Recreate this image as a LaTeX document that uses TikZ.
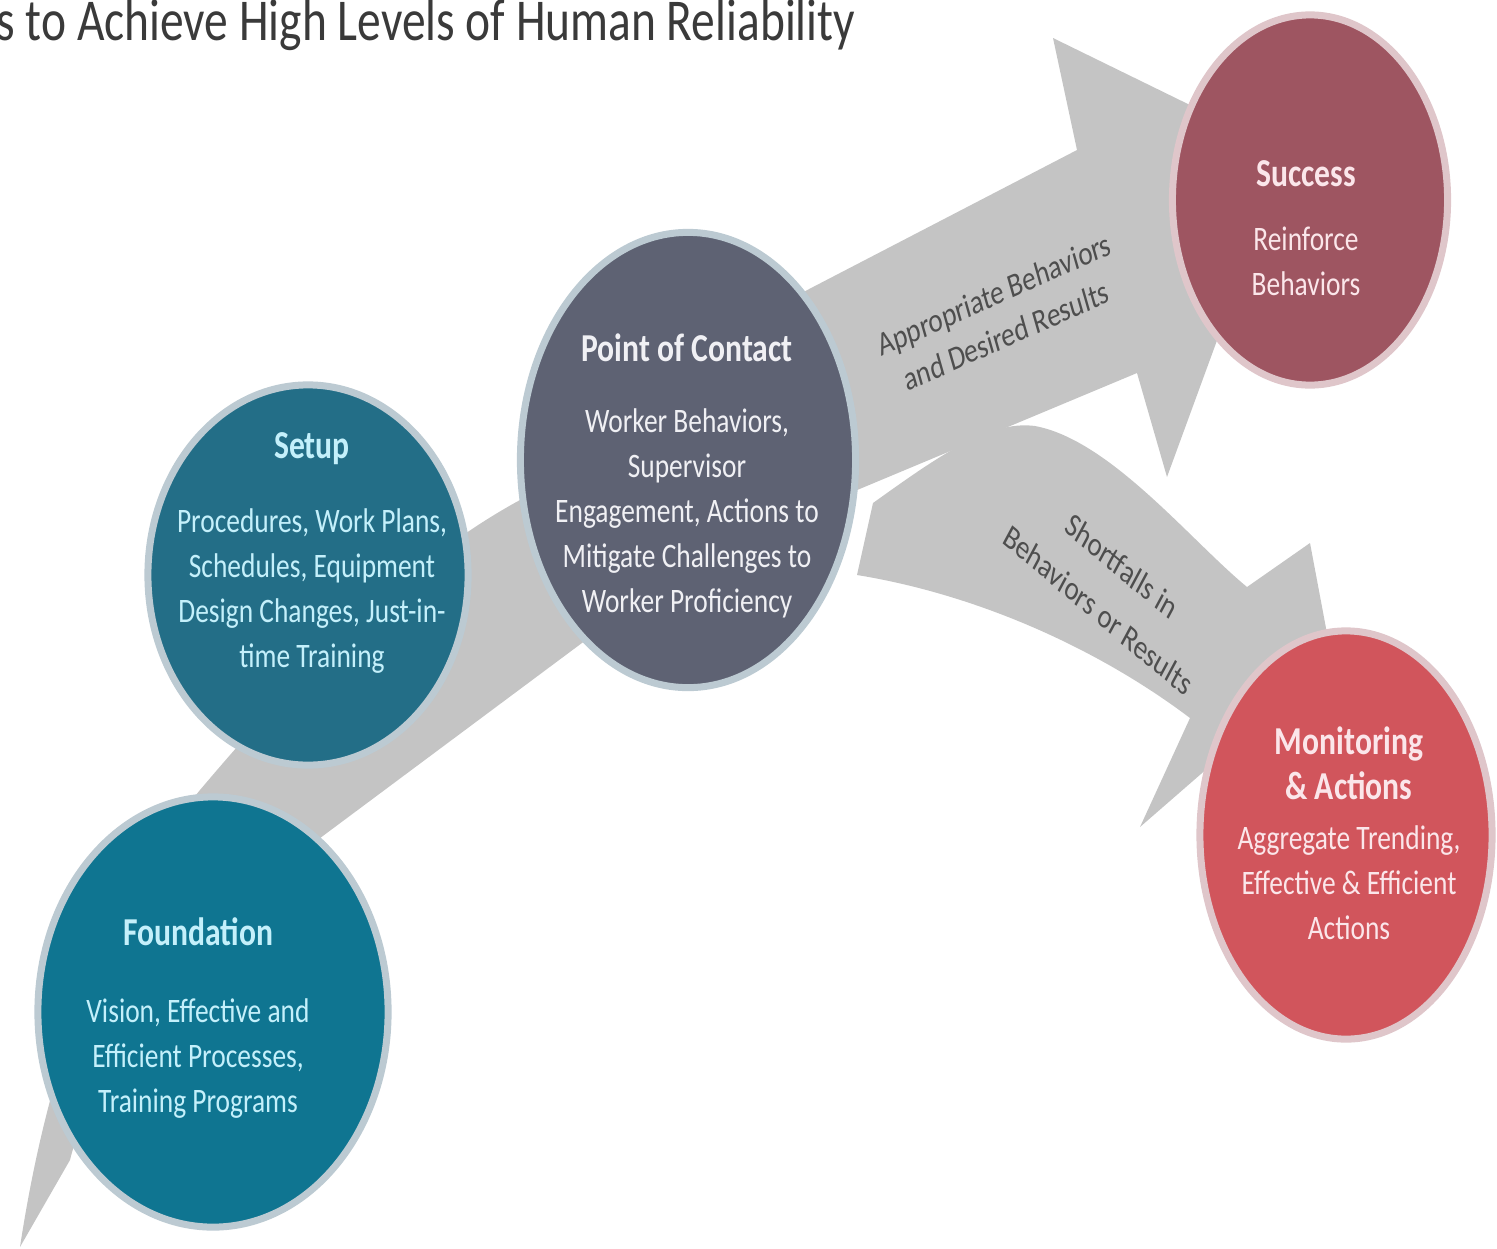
\documentclass[tikz,border=0pt]{standalone}
\usepackage{fontspec}
\setmainfont{Carlito}
\usetikzlibrary{shapes.geometric}

\definecolor{bandgrey}{HTML}{C4C4C4}
\definecolor{foundcol}{HTML}{0F7591}
\definecolor{setupcol}{HTML}{236E87}
\definecolor{contactcol}{HTML}{5E6273}
\definecolor{successcol}{HTML}{9E5561}
\definecolor{monitorcol}{HTML}{D1555C}
\definecolor{halocool}{HTML}{BCCAD2}
\definecolor{halowarm}{HTML}{DFC6CA}
\definecolor{cyantext}{HTML}{C4F0FB}
\definecolor{greytext}{HTML}{F0F0F4}
\definecolor{pinktext}{HTML}{FBE6EA}
\definecolor{labeltext}{HTML}{4E4E4E}
\definecolor{titletext}{HTML}{3A3A3A}

\newcommand{\headfont}{\bfseries\fontsize{9}{10.24}\selectfont}

\begin{document}
\begin{tikzpicture}[%
x=0.01cm, y=-0.01cm,
stage/.style={ellipse, inner sep=0pt, line width=0.07cm},
stagetext/.style={align=center, inner sep=0pt, yscale=1.25, transform shape,
  font=\fontsize{7.8}{10.24}\selectfont},
bandlabel/.style={align=center, inner sep=0pt, text=labeltext,
  font=\fontsize{7.7}{10}\selectfont},
]
\useasboundingbox (0,0) rectangle (1497,1248);
%% title;
\node[anchor=west, inner sep=0pt, text=titletext, yscale=1.25, transform shape,
  font=\fontsize{13.5}{15}\selectfont] (title) at (-4,25)
  {s to Achieve High Levels of Human Reliability};
%% main arrow;
\fill[bandgrey] (20,1247) .. controls (50,1050) and (110,900) .. (200,790)
  .. controls (310,660) and (410,560) .. (520,500)
  .. controls (640,420) and (730,330) .. (813,287)
  -- (1077,150) -- (1053,38) -- (1286,152) -- (1167,477) -- (1137,373)
  -- (850,493)
  .. controls (760,530) and (660,590) .. (590,637)
  -- (300,853)
  .. controls (160,960) and (90,1080) .. (70,1160) -- cycle;
%% shortfall arrow;
\fill[bandgrey] (873,503) .. controls (940,455) and (990,420) .. (1035,426)
  .. controls (1110,440) and (1190,540) .. (1247,587)
  -- (1310,543) -- (1332,660) -- (1140,827) -- (1190,718)
  .. controls (1100,650) and (980,595) .. (857,575) -- cycle;
%% circles;
\node[stage, fill=foundcol, draw=halocool, minimum width=3.50cm, minimum height=4.30cm] (found) at (213,1012) {};
\node[stage, fill=setupcol, draw=halocool, minimum width=3.20cm, minimum height=3.80cm] (setup) at (308,575) {};
\node[stage, fill=contactcol, draw=halocool, minimum width=3.35cm, minimum height=4.55cm] (contact) at (688,460) {};
\node[stage, fill=successcol, draw=halowarm, minimum width=2.75cm, minimum height=3.70cm] (success) at (1310,200) {};
\node[stage, fill=monitorcol, draw=halowarm, minimum width=2.92cm, minimum height=4.08cm] (monitor) at (1346,835) {};
%% labels;
\node[stagetext, text=cyantext] (foundtxt) at (198,1018)
  {{\headfont Foundation}\\[0.26cm]Vision, Effective and\\Efficient Processes,\\Training Programs};
\node[stagetext, text=cyantext] (setuptxt) at (312,553)
  {{\headfont Setup}\\[0.23cm]Procedures, Work Plans,\\Schedules, Equipment\\Design Changes, Just-in-\\time Training};
\node[stagetext, text=greytext] (contacttxt) at (687,476)
  {{\headfont Point of Contact}\\[0.21cm]Worker Behaviors,\\Supervisor\\Engagement, Actions to\\Mitigate Challenges to\\Worker Proficiency};
\node[stagetext, text=pinktext] (successtxt) at (1306,228)
  {{\headfont Success}\\[0.15cm]Reinforce\\Behaviors};
\node[stagetext, text=pinktext] (monitortxt) at (1349,833)
  {{\headfont Monitoring}\\{\headfont \& Actions}\\[0.04cm]Aggregate Trending,\\Effective \& Efficient\\Actions};
\node[bandlabel, yscale=1.25, transform shape, rotate=19.6] (goodlbl) at (1000,315)
  {Appropriate Behaviors\\and Desired Results};
\node[bandlabel, font=\fontsize{7.7}{12}\selectfont, yscale=1.25, transform shape, rotate=-33.9] (shortlbl) at (1110,588)
  {Shortfalls in\\Behaviors or Results};
\end{tikzpicture}
\end{document}
